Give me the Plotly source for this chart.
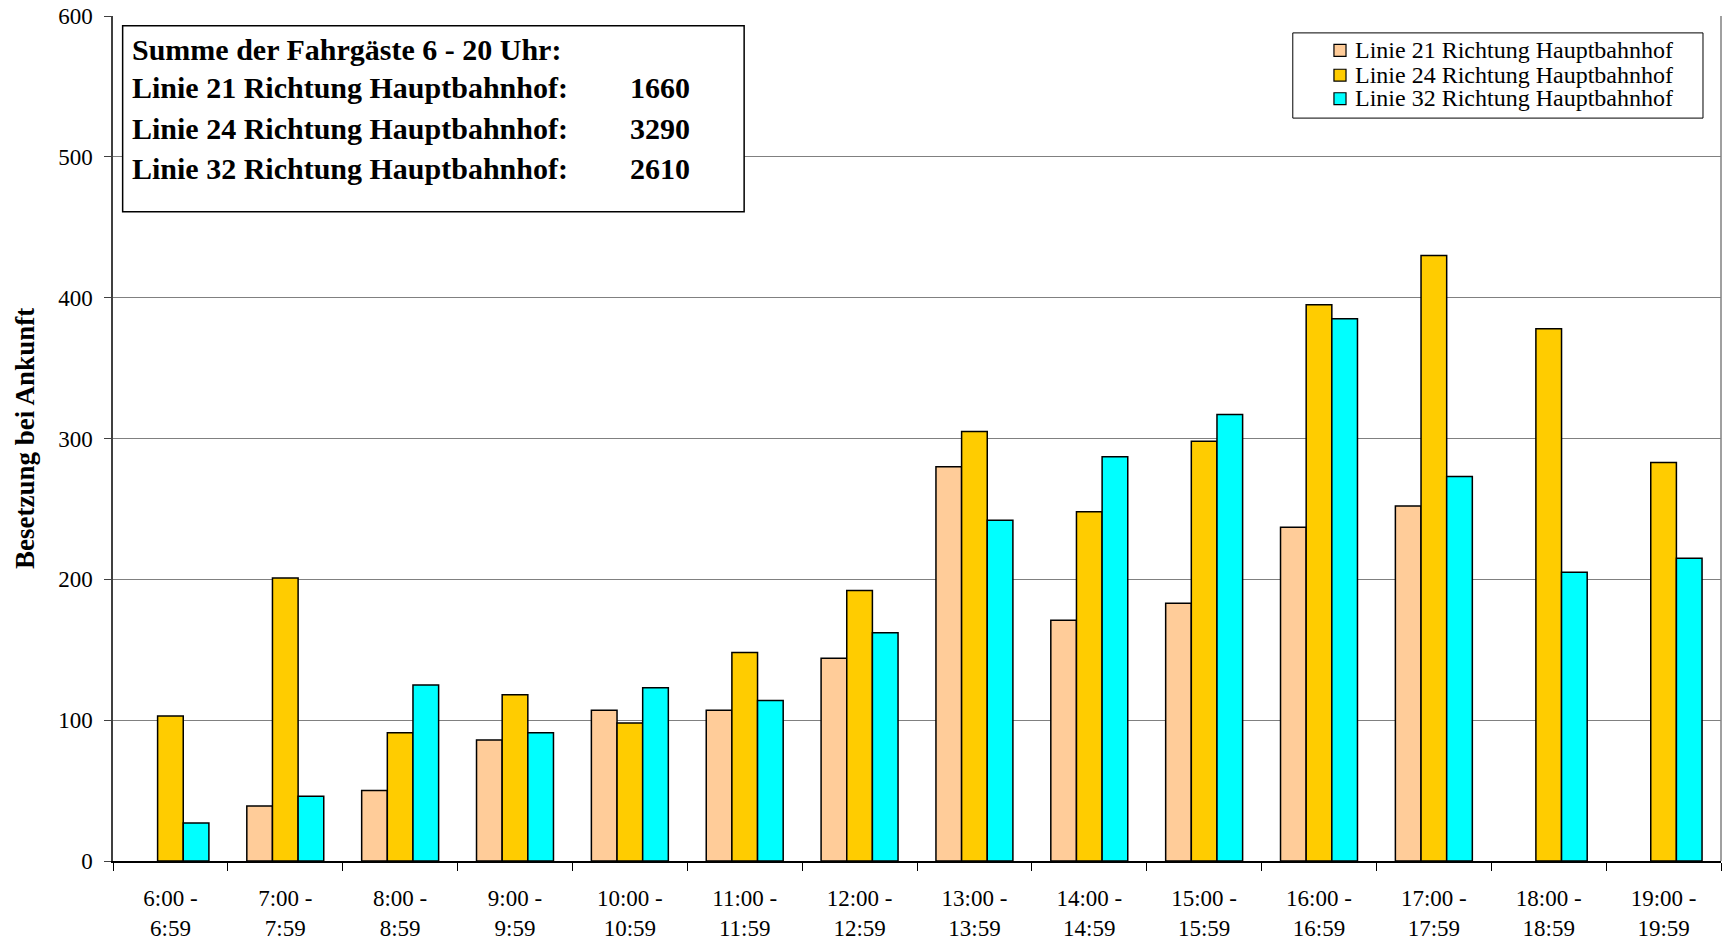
import plotly.graph_objects as go

# Hourly time slots (x categories)
slots = [
    "6:00 -<br>6:59", "7:00 -<br>7:59", "8:00 -<br>8:59", "9:00 -<br>9:59",
    "10:00 -<br>10:59", "11:00 -<br>11:59", "12:00 -<br>12:59", "13:00 -<br>13:59",
    "14:00 -<br>14:59", "15:00 -<br>15:59", "16:00 -<br>16:59", "17:00 -<br>17:59",
    "18:00 -<br>18:59", "19:00 -<br>19:59",
]

# Besetzung bei Ankunft per line (None = no bar)
linie_21 = [None, 39, 50, 86, 107, 107, 144, 280, 171, 183, 237, 252, None, None]
linie_24 = [103, 201, 91, 118, 98, 148, 192, 305, 248, 298, 395, 430, 378, 283]
linie_32 = [27, 46, 125, 91, 123, 114, 162, 242, 287, 317, 385, 273, 205, 215]

series_names = [
    "Linie 21 Richtung Hauptbahnhof",
    "Linie 24 Richtung Hauptbahnhof",
    "Linie 32 Richtung Hauptbahnhof",
]
totals = [1660, 3290, 2610]

COLORS = ["#FFCC99", "#FFCC00", "#00FFFF"]
FONT = "Liberation Serif, Times New Roman, serif"

fig = go.Figure()
for name, vals, col in zip(series_names, [linie_21, linie_24, linie_32], COLORS):
    fig.add_trace(
        go.Bar(
            x=slots,
            y=vals,
            name=name,
            showlegend=False,
            marker=dict(color=col, line=dict(color="black", width=1.5)),
        )
    )

# summary box
fig.add_shape(
    type="rect", xref="paper", yref="y",
    x0=0.006, x1=0.3925, y0=461, y1=593,
    line=dict(color="black", width=1.5), fillcolor="white", layer="above",
)
box_lines = ["Summe der Fahrgäste 6 - 20 Uhr:"] + [n + ":" for n in series_names]
box_y = [576, 549, 520, 492]
for i, (txt, yy) in enumerate(zip(box_lines, box_y)):
    fig.add_annotation(
        text=f"<b>{txt}</b>", xref="paper", yref="y", x=0.0105, y=yy,
        xanchor="left", yanchor="middle", showarrow=False,
        font=dict(family=FONT, size=30, color="black"),
    )
    if i > 0:
        fig.add_annotation(
            text=f"<b>{totals[i - 1]}</b>", xref="paper", yref="y", x=0.360, y=yy,
            xanchor="right", yanchor="middle", showarrow=False,
            font=dict(family=FONT, size=30, color="black"),
        )

# legend box (drawn by hand to keep the tight row spacing)
fig.add_shape(
    type="rect", xref="paper", yref="y",
    x0=0.7337, x1=0.9888, y0=527.5, y1=588,
    line=dict(color="black", width=1), fillcolor="white", layer="above",
)
legend_y = [576.0, 558.4, 541.7]
for name, col, yy in zip(series_names, COLORS, legend_y):
    fig.add_shape(
        type="rect", xref="paper", yref="y",
        x0=0.7593, x1=0.7668, y0=yy - 4.6, y1=yy + 3.8,
        line=dict(color="black", width=1.2), fillcolor=col, layer="above",
    )
    fig.add_annotation(
        text=name, xref="paper", yref="y", x=0.7712, y=yy,
        xanchor="left", yanchor="middle", showarrow=False,
        font=dict(family=FONT, size=24, color="black"),
    )

# y title
fig.add_annotation(
    text="<b>Besetzung bei Ankunft</b>", xref="paper", yref="paper",
    x=-0.0551, y=0.5, textangle=-90, showarrow=False,
    xanchor="center", yanchor="middle",
    font=dict(family=FONT, size=27, color="black"),
)

# right border of plot area
fig.add_shape(
    type="line", xref="paper", yref="paper", x0=1, x1=1, y0=0, y1=1,
    line=dict(color="#808080", width=1.5),
)

fig.update_layout(
    width=1728,
    height=942,
    barmode="group",
    bargap=0.33,
    bargroupgap=0,
    showlegend=False,
    paper_bgcolor="white",
    plot_bgcolor="white",
    font=dict(family=FONT, color="black"),
    margin=dict(l=113, r=7, t=16, b=81),
    xaxis=dict(
        type="category",
        automargin=False,
        tickson="boundaries",
        ticks="outside",
        ticklen=8,
        tickcolor="black",
        ticklabelstandoff=16,
        ticklabeloverflow="allow",
        showline=True,
        linecolor="black",
        linewidth=1.5,
        showgrid=False,
        tickfont=dict(family=FONT, size=23, color="black"),
    ),
    yaxis=dict(
        range=[0, 600],
        dtick=100,
        automargin=False,
        ticks="outside",
        ticklen=7,
        tickcolor="#404040",
        ticklabelstandoff=7,
        ticklabeloverflow="allow",
        showline=True,
        linecolor="#404040",
        linewidth=1.5,
        showgrid=True,
        gridcolor="#808080",
        gridwidth=1.2,
        zeroline=False,
        tickfont=dict(family=FONT, size=23, color="black"),
    ),
)

# drop the browser's default body margin so the figure fills the window
fig.write_html(
    "out.html",
    config={"displayModeBar": False},
    post_script="document.body.style.margin = '0';",
)
